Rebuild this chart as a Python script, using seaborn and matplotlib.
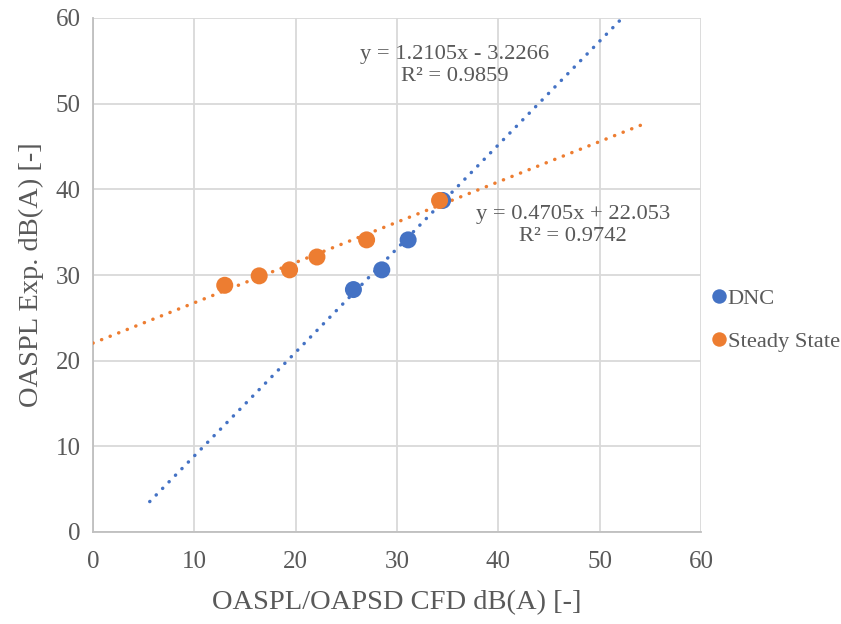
import numpy as np
import pandas as pd
import matplotlib
matplotlib.use("Agg")
import matplotlib.pyplot as plt
import seaborn as sns

# ---- data ----
dnc_x = [25.7, 28.5, 31.1, 34.5]
dnc_y = [28.3, 30.6, 34.1, 38.7]
ss_x = [13.0, 16.4, 19.4, 22.1, 27.0, 34.2]
ss_y = [28.8, 29.9, 30.6, 32.1, 34.1, 38.7]

dnc_fit = [1.2105, -3.2266]   # slope, intercept
ss_fit = [0.4705, 22.053]
dnc_range = [5.6, 54.5]
ss_range = [0.0, 54.2]
dnc_label = "y = 1.2105x - 3.2266\nR² = 0.9859"
ss_label = "y = 0.4705x + 22.053\nR² = 0.9742"

series_names = ["DNC", "Steady State"]
xticks = [0, 10, 20, 30, 40, 50, 60]
yticks = [0, 10, 20, 30, 40, 50, 60]

BLUE = "#4472C4"
ORANGE = "#ED7D31"
GREY_TXT = "#595959"

sns.set_theme(style="white")
plt.rcParams["font.family"] = ["Liberation Serif", "DejaVu Serif"]

df = pd.DataFrame({
    "x": dnc_x + ss_x,
    "y": dnc_y + ss_y,
    "series": [series_names[0]] * len(dnc_x) + [series_names[1]] * len(ss_x),
})

fig = plt.figure(figsize=(8.41, 6.24), dpi=100)
ax = fig.add_axes([93 / 841, 92 / 624, 608 / 841, 514 / 624])

# trendlines
for fit, rng, col in [(dnc_fit, dnc_range, BLUE), (ss_fit, ss_range, ORANGE)]:
    xs = np.array(rng)
    ys = fit[0] * xs + fit[1]
    ax.plot(xs, ys, color=col, lw=2.5, linestyle=(0, (0.05, 2.6)),
            dash_capstyle="round", solid_capstyle="round", zorder=3)

sns.scatterplot(data=df, x="x", y="y", hue="series",
                palette={series_names[0]: BLUE, series_names[1]: ORANGE},
                s=150, edgecolor="none", ax=ax, zorder=4, legend=True)

ax.set_xlim(0, 60)
ax.set_ylim(0, 60)
ax.set_xticks(xticks)
ax.set_yticks(yticks)
ax.grid(True, color="#d9d9d9", lw=1.3)
ax.set_axisbelow(True)
for s in ["top", "right"]:
    ax.spines[s].set_visible(False)
for s in ["left", "bottom"]:
    ax.spines[s].set_color("#bfbfbf")
    ax.spines[s].set_linewidth(1.3)
ax.tick_params(axis="both", length=0, labelsize=18, labelcolor=GREY_TXT)
ax.tick_params(axis="x", pad=14)
ax.tick_params(axis="y", pad=9)

ax.set_xlabel("OASPL/OAPSD CFD dB(A) [-]", fontsize=20.5, color=GREY_TXT, labelpad=12)
ax.set_ylabel("OASPL Exp. dB(A) [-]", fontsize=20.5, color=GREY_TXT, labelpad=8)

ax.text(35.7, 54.5, dnc_label, ha="center", va="center", fontsize=16.2,
        color=GREY_TXT, linespacing=1.2)
ax.text(47.4, 35.8, ss_label, ha="center", va="center", fontsize=16.2,
        color=GREY_TXT, linespacing=1.2)

leg = ax.get_legend()
handles, labels = ax.get_legend_handles_labels()
leg.remove()
fig.legend(handles, labels, loc="center left", bbox_to_anchor=(685 / 841, 1 - 320 / 624),
           frameon=False, fontsize=16.2, handletextpad=-0.2, labelspacing=1.0,
           handlelength=1.2, labelcolor=GREY_TXT, markerscale=0.85)

fig.savefig("out.png", dpi=100)
